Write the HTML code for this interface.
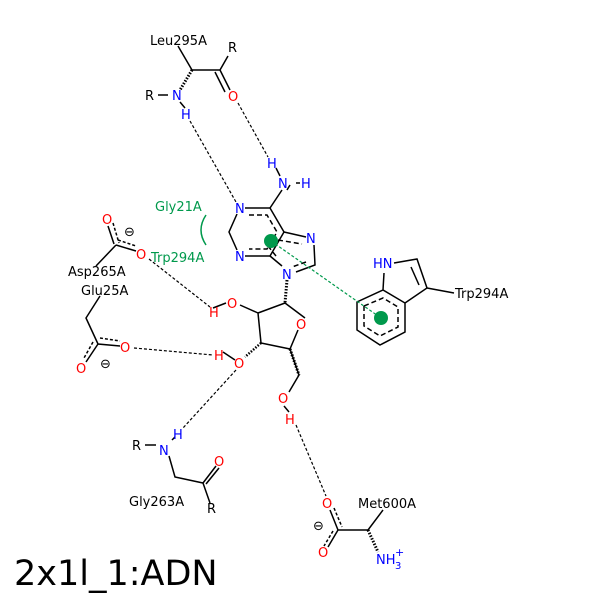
<!DOCTYPE html>
<html><head><style>body{margin:0;background:#fff}svg{display:block}text{font-family:"DejaVu Sans","Liberation Sans",sans-serif;font-size:13px}</style></head><body>
<svg width="600" height="600" viewBox="0 0 600 600" xmlns="http://www.w3.org/2000/svg">
<g stroke="#000" stroke-width="1.5" fill="none">
<!-- adenine -->
<path d="M245,208H270L284,232L270,256H245M237,250L229,232L237,214"/>
<path d="M270,208L282,190M284,232L306,237M314,245L315,265L296,272M282,266L270,256"/>
<g stroke-dasharray="5,3"><path d="M249,215H267L277,232L267,249H249M278,240L302,244M306,262L292,267M276,256L268,246"/></g>
<!-- ribose -->
<path d="M258,313L261,343L290,349L298,330M305,318L285,303L258,313M261,343"/>
<path d="M290,349L299,375L289,392"/>
<path d="M258,313L240,305" stroke-width="1.5"/>
<path d="M287,280L285,303" stroke-dasharray="1.5,1.5" stroke-width="3"/>
<path d="M261,343L245,357" stroke-dasharray="1.5,1.5" stroke-width="2.5"/>
<path d="M290,349L299,375" stroke-dasharray="1.5,1.5" stroke-width="3"/>
<!-- indole -->
<path d="M357,302V330L380,345L405,332V303L383,290Z M383,290L384,273 M394,263L417,259L427,288L405,303 M427,288L454,293"/>
<path d="M411,267L419,285"/>
<g stroke-dasharray="5,3"><path d="M364,306V326L380,336L398,327V307L383,298Z"/></g>
<!-- Leu295A -->
<path d="M192,70H220L228,56M220,70L230,90M215,72L225,92M192,70L178,46M158,95H168"/>
<path d="M192,70L180,90" stroke-dasharray="1.5,1.5" stroke-width="3"/>
<path d="M180,102L185,108M287,190L290,185M296,183H300M276,168L280,176"/>
<!-- Asp265A -->
<path d="M108,226L114,244M116,245L136,251M116,245L96,266"/>
<path d="M113,223L119,243M118,240L136,246" stroke-dasharray="3,2"/>
<!-- Glu25A -->
<path d="M100,296L86,318L98,344L120,346M98,344L86,362"/>
<path d="M93,342L84,358M100,338L120,341" stroke-dasharray="3,2"/>
<!-- Gly263A -->
<path d="M145,445H156M169,456L175,477L203,483L216,466M203,483L210,503M172,440L175,437"/>
<path d="M206,484L219,468"/>
<!-- Met600A -->
<path d="M330,510L338,530L368,530L383,510M338,530L328,547"/>
<path d="M334,508L342,527M333,531L324,546" stroke-dasharray="3,2"/>
<path d="M368,530L378,552" stroke-dasharray="1.5,1.5" stroke-width="3"/>
<path d="M213,308L226,303M223,352L235,360M284,406L289,412"/>
</g>
<!-- hbonds -->
<g stroke="#000" stroke-width="1.2" stroke-dasharray="3,2" fill="none">
<path d="M190,121L236,202M238,103L268,157M149,259L210,307M134,348L213,355M236,370L183,428M296,425L326,496"/>
</g>
<g stroke="#00994c" stroke-width="1.2" fill="none">
<path d="M271,241L381,318" stroke-dasharray="3,2"/>
<path d="M206,215Q196,230 206,245" stroke-width="1.5"/>
</g>
<circle cx="271" cy="241" r="7" fill="#00994c"/>
<circle cx="381" cy="318" r="7" fill="#00994c"/>
<g fill="#00f">
<text x="235" y="213">N</text><text x="235" y="261">N</text><text x="306" y="243">N</text><text x="282" y="279">N</text>
<text x="278" y="188">N</text><text x="301" y="188">H</text><text x="267" y="168">H</text>
<text x="373" y="268">HN</text>
<text x="172" y="100">N</text><text x="181" y="119">H</text>
<text x="159" y="455">N</text><text x="173" y="439">H</text>
<text x="376" y="564">NH</text><text x="395" y="569" style="font-size:10px">3</text><text x="395" y="556" style="font-size:11px">+</text>
</g>
<g fill="#f00">
<text x="228" y="101">O</text><text x="296" y="329">O</text><text x="227" y="308">O</text><text x="209" y="317">H</text>
<text x="234" y="368">O</text><text x="214" y="360">H</text><text x="278" y="403">O</text><text x="285" y="424">H</text>
<text x="102" y="224">O</text><text x="136" y="259">O</text><text x="120" y="352">O</text><text x="76" y="373">O</text>
<text x="322" y="508">O</text><text x="318" y="557">O</text><text x="214" y="466">O</text>
</g>
<g fill="#000">
<text x="150" y="45">Leu295A</text><text x="228" y="52">R</text><text x="145" y="100">R</text>
<text x="68" y="276">Asp265A</text><text x="81" y="295">Glu25A</text>
<text x="455" y="298">Trp294A</text>
<text x="132" y="450">R</text><text x="207" y="513">R</text><text x="129" y="506">Gly263A</text>
<text x="358" y="508">Met600A</text>
<text x="124" y="236">⊖</text><text x="100" y="368">⊖</text><text x="313" y="530">⊖</text>
<text x="14" y="585" style="font-size:35px">2x1l_1:ADN</text>
</g>
<g fill="#00994c"><text x="155" y="211">Gly21A</text><text x="151" y="262">Trp294A</text></g>
</svg>
</body></html>
